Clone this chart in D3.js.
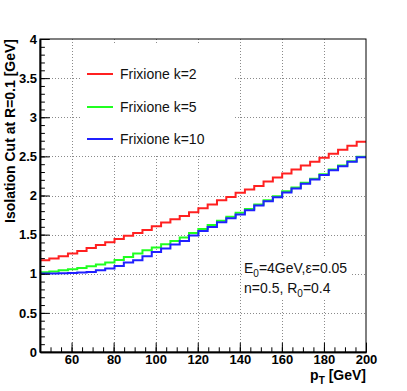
<!DOCTYPE html>
<html>
<head>
<meta charset="utf-8">
<script src="https://cdn.jsdelivr.net/npm/d3@7"></script>
<style>
  body { margin: 0; background: #fff; }
  text { font-family: "Liberation Sans", Arial, Helvetica, sans-serif; }
</style>
</head>
<body>
<div id="chart"></div>
<script>
// histogram range / binning
const xLow = 45, xHigh = 200, nBins = 35;

// bin contents (GeV)
const frixioneK2 = [1.173, 1.194, 1.224, 1.258, 1.292, 1.330, 1.369, 1.403, 1.445, 1.485,
  1.520, 1.560, 1.607, 1.654, 1.696, 1.739, 1.786, 1.838, 1.885, 1.940,
  1.982, 2.034, 2.076, 2.123, 2.179, 2.230, 2.281, 2.332, 2.383, 2.430,
  2.481, 2.532, 2.584, 2.635, 2.686];
const frixioneK5 = [1.019, 1.028, 1.045, 1.058, 1.075, 1.096, 1.117, 1.143, 1.175, 1.215,
  1.258, 1.300, 1.335, 1.377, 1.420, 1.463, 1.520, 1.573, 1.622, 1.676,
  1.727, 1.778, 1.829, 1.884, 1.940, 1.991, 2.055, 2.102, 2.162, 2.213,
  2.272, 2.332, 2.383, 2.439, 2.494];
const frixioneK10 = [1.002, 1.003, 1.005, 1.008, 1.015, 1.023, 1.045, 1.066, 1.100, 1.143,
  1.173, 1.224, 1.279, 1.322, 1.373, 1.420, 1.490, 1.545, 1.599, 1.659,
  1.710, 1.757, 1.812, 1.872, 1.927, 1.978, 2.038, 2.090, 2.150, 2.203,
  2.262, 2.322, 2.375, 2.432, 2.488];

const seriesNames = ["Frixione k=2", "Frixione k=5", "Frixione k=10"];
const seriesColors = ["#ff2020", "#20ff20", "#2020ff"];
const seriesValues = [frixioneK2, frixioneK5, frixioneK10];

const xMajorTicks = [60, 80, 100, 120, 140, 160, 180, 200];
const xMinorTicks = d3.range(50, 201, 5);
const yMajorTicks = [0, 0.5, 1, 1.5, 2, 2.5, 3, 3.5, 4];
const yMinorTicks = d3.range(0, 40.5, 1).map(d => d / 10);

const W = 407, H = 391;
const margin = { top: 39, right: 41, bottom: 39, left: 40 };
const iw = W - margin.left - margin.right;
const ih = H - margin.top - margin.bottom;

const svg = d3.select("#chart").append("svg")
  .attr("width", W).attr("height", H);

const g = svg.append("g")
  .attr("transform", "translate(" + margin.left + "," + margin.top + ")");

const x = d3.scaleLinear().domain([xLow, xHigh]).range([0, iw]);
const y = d3.scaleLinear().domain([0, 4]).range([ih, 0]);

// dotted grid
const gridStyle = sel => sel.attr("stroke", "#8a8a8a").attr("stroke-width", 1)
  .attr("stroke-dasharray", "1,2");

g.append("g").selectAll("line")
  .data(yMajorTicks.filter(d => d > 0 && d < 4))
  .join("line")
  .attr("x1", 0).attr("x2", iw)
  .attr("y1", d => Math.round(y(d)) + 0.5).attr("y2", d => Math.round(y(d)) + 0.5)
  .call(gridStyle);

g.append("g").selectAll("line")
  .data(xMajorTicks.filter(d => d < xHigh))
  .join("line")
  .attr("x1", d => Math.round(x(d)) + 0.5).attr("x2", d => Math.round(x(d)) + 0.5)
  .attr("y1", 0).attr("y2", ih)
  .call(gridStyle);

// legend box and parameter box sit on top of the grid
g.append("rect")
  .attr("x", 80 - margin.left).attr("y", 45 - margin.top)
  .attr("width", 154).attr("height", 110).attr("fill", "#fff");
g.append("rect")
  .attr("x", 242 - margin.left).attr("y", 258 - margin.top)
  .attr("width", 109).attr("height", 40).attr("fill", "#fff");

// histograms as steps
const binW = (xHigh - xLow) / nBins;
const line = d3.line().x(d => x(d[0])).y(d => y(d[1]));

seriesValues.forEach((vals, k) => {
  const pts = [];
  vals.forEach((v, i) => {
    pts.push([xLow + i * binW, v]);
    pts.push([xLow + (i + 1) * binW, v]);
  });
  g.append("path")
    .datum(pts)
    .attr("fill", "none")
    .attr("stroke", seriesColors[k])
    .attr("stroke-width", 2)
    .attr("d", line);
});

// frame
g.append("rect")
  .attr("x", 0).attr("y", 0).attr("width", iw).attr("height", ih)
  .attr("fill", "none").attr("stroke", "#000").attr("stroke-width", 1);

// axes
g.append("g")
  .call(d3.axisLeft(y).tickValues(yMajorTicks).tickSize(-9.8).tickPadding(3)
    .tickFormat(d3.format("")).tickSizeOuter(0));
g.append("g")
  .call(d3.axisLeft(y).tickValues(yMinorTicks).tickSize(-4.9).tickFormat("").tickSizeOuter(0));

g.append("g").attr("transform", "translate(0," + ih + ")")
  .call(d3.axisBottom(x).tickValues(xMajorTicks).tickSize(-9.4).tickPadding(3)
    .tickFormat(d3.format("")).tickSizeOuter(0));
g.append("g").attr("transform", "translate(0," + ih + ")")
  .call(d3.axisBottom(x).tickValues(xMinorTicks).tickSize(-4.7).tickFormat("").tickSizeOuter(0));

g.selectAll(".domain").attr("stroke", "#000").attr("stroke-width", 1.5);
g.selectAll(".tick line").attr("stroke", "#000");
g.selectAll(".tick text")
  .attr("font-family", "'Liberation Sans', Arial, Helvetica, sans-serif")
  .attr("font-weight", "bold").attr("font-size", 13).attr("fill", "#000");

// axis titles
svg.append("text")
  .attr("x", W - margin.right).attr("y", 380)
  .attr("text-anchor", "end")
  .attr("font-weight", "bold").attr("font-size", 14)
  .call(t => {
    t.append("tspan").text("p");
    t.append("tspan").attr("font-size", 10).attr("dy", 4).text("T");
    t.append("tspan").attr("dy", -4).text(" [GeV]");
  });

svg.append("text")
  .attr("transform", "translate(14.5," + margin.top + ") rotate(-90)")
  .attr("text-anchor", "end")
  .attr("font-weight", "bold").attr("font-size", 14)
  .text("Isolation Cut at R=0.1 [GeV]");

// legend entries
const legendY = [74, 107, 139];
seriesNames.forEach((name, k) => {
  svg.append("line")
    .attr("x1", 87).attr("x2", 113)
    .attr("y1", legendY[k]).attr("y2", legendY[k])
    .attr("stroke", seriesColors[k]).attr("stroke-width", 2);
  svg.append("text")
    .attr("x", 120).attr("y", legendY[k]).attr("dy", "0.36em")
    .attr("font-size", 14).attr("fill", "#111")
    .text(name);
});

// parameter text
const par = svg.append("g").attr("font-size", 14).attr("fill", "#111");
par.append("text").attr("x", 244).attr("y", 272.7)
  .call(t => {
    t.append("tspan").text("E");
    t.append("tspan").attr("font-size", 10).attr("dy", 4.5).text("0");
    t.append("tspan").attr("dy", -4.5).text("=4GeV,\u03b5=0.05");
  });
par.append("text").attr("x", 244).attr("y", 292.7)
  .call(t => {
    t.append("tspan").text("n=0.5, R");
    t.append("tspan").attr("font-size", 10).attr("dy", 4.5).text("0");
    t.append("tspan").attr("dy", -4.5).text("=0.4");
  });
</script>
</body>
</html>
